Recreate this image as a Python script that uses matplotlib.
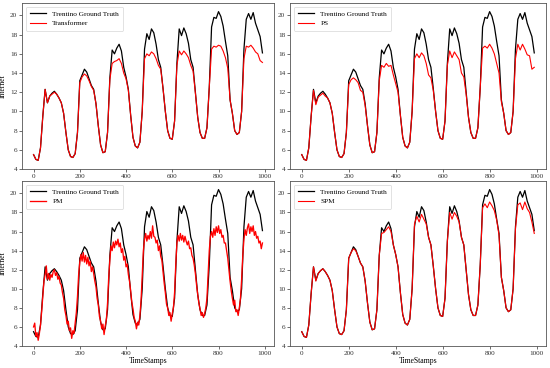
import matplotlib
matplotlib.use("Agg")
import matplotlib.pyplot as plt

plt.rcParams['font.family'] = ['Liberation Serif', 'DejaVu Serif']

# ---- data ----
timestamps = list(range(0, 1000, 10))
ground_truth = [5.5, 5.0, 4.9, 6.2, 9.5, 12.3, 10.9, 11.6, 11.9, 12.1,
                11.8, 11.4, 10.9, 9.8, 7.8, 6.0, 5.3, 5.2, 5.6, 7.8,
                13.2, 13.8, 14.4, 14.1, 13.4, 12.7, 12.3, 10.8, 8.5, 6.5,
                5.7, 5.8, 7.8, 13.5, 16.4, 16.0, 16.6, 17.0, 16.3, 14.6,
                13.6, 12.3, 9.6, 7.3, 6.4, 6.2, 6.8, 10.0, 16.5, 18.1,
                17.5, 18.6, 18.2, 17.0, 15.4, 14.6, 12.4, 10.0, 8.0, 7.2,
                7.1, 9.0, 15.0, 18.6, 17.9, 18.7, 18.1, 17.1, 15.4, 14.6,
                12.0, 9.4, 7.8, 7.2, 7.2, 8.3, 12.5, 18.8, 19.8, 19.7,
                20.4, 19.9, 18.9, 17.3, 15.8, 11.2, 9.8, 8.0, 7.6, 7.8,
                10.0, 16.5, 19.6, 20.2, 19.6, 20.3, 19.2, 18.5, 17.8, 16.1]

transformer = [5.5, 5.0, 4.9, 6.2, 9.5, 12.3, 10.9, 11.6, 11.8, 12.0,
               11.8, 11.4, 10.9, 9.8, 7.8, 6.0, 5.3, 5.2, 5.6, 7.8,
               13.0, 13.6, 13.9, 13.7, 13.2, 12.6, 12.2, 10.8, 8.5, 6.5,
               5.7, 5.8, 7.8, 13.3, 15.0, 15.2, 15.3, 15.5, 15.0, 14.0,
               13.4, 12.2, 9.6, 7.3, 6.4, 6.2, 6.8, 10.0, 15.5, 16.0,
               15.8, 16.2, 16.0, 15.5, 14.8, 14.4, 12.4, 10.0, 8.0, 7.2,
               7.1, 9.0, 14.8, 16.3, 15.9, 16.3, 16.0, 15.6, 14.8, 14.2,
               11.9, 9.4, 7.8, 7.2, 7.2, 8.3, 12.5, 16.5, 16.8, 16.7,
               16.9, 16.8, 16.3, 15.6, 14.5, 11.2, 9.8, 8.0, 7.6, 7.8,
               10.0, 15.5, 16.8, 16.7, 16.9, 16.6, 16.2, 16.0, 15.3, 15.1]

ps = [5.5, 5.0, 4.9, 6.2, 9.5, 12.2, 10.7, 11.5, 11.7, 11.9,
      11.6, 11.4, 10.9, 9.8, 7.8, 6.0, 5.3, 5.2, 5.6, 7.8,
      12.8, 13.3, 13.5, 13.3, 13.0, 12.2, 12.0, 10.6, 8.5, 6.5,
      5.7, 5.8, 7.8, 13.2, 14.8, 14.6, 15.0, 14.7, 14.8, 13.8,
      12.9, 12.0, 9.6, 7.3, 6.4, 6.2, 6.8, 10.0, 15.5, 16.0,
      15.6, 16.1, 15.8, 15.0, 13.8, 13.5, 12.2, 10.0, 8.0, 7.2,
      7.1, 9.0, 14.8, 16.3, 15.6, 16.2, 15.8, 15.4, 14.0, 13.6,
      11.8, 9.4, 7.8, 7.2, 7.2, 8.3, 12.5, 16.6, 16.8, 16.6,
      17.0, 16.6, 16.0, 15.0, 14.0, 11.0, 9.8, 8.0, 7.6, 7.8,
      10.0, 15.5, 17.0, 16.4, 17.0, 16.5, 15.9, 15.8, 14.4, 14.6]

spm = [5.5, 5.0, 4.9, 6.2, 9.5, 12.3, 10.8, 11.6, 11.9, 12.1,
       11.8, 11.4, 10.9, 9.8, 7.8, 6.0, 5.3, 5.2, 5.6, 7.8,
       13.2, 13.8, 14.2, 14.0, 13.4, 12.7, 12.3, 10.8, 8.5, 6.5,
       5.7, 5.8, 7.8, 13.5, 15.8, 15.9, 16.2, 16.5, 16.0, 14.6,
       13.6, 12.3, 9.6, 7.3, 6.4, 6.2, 6.8, 10.0, 16.8, 17.6,
       17.0, 17.8, 17.3, 16.8, 15.4, 14.6, 12.4, 10.0, 8.0, 7.2,
       7.1, 9.0, 15.0, 18.0, 17.3, 18.0, 17.6, 17.0, 15.4, 14.6,
       12.0, 9.4, 7.8, 7.2, 7.2, 8.3, 12.5, 18.5, 18.9, 18.5,
       19.1, 18.7, 18.2, 17.2, 15.6, 11.2, 9.8, 8.0, 7.6, 7.8,
       10.0, 16.3, 18.8, 19.0, 18.3, 19.1, 18.4, 18.0, 17.0, 15.8]

timestamps_pm = list(range(0, 995, 5))
pm = [6.0, 6.4, 5.0, 5.4, 4.6, 5.3, 6.2, 7.6, 9.2, 10.8,
      11.5, 12.4, 11.0, 11.6, 10.9, 11.5, 11.2, 11.8, 12.0, 11.4,
      11.7, 11.0, 11.3, 10.6, 10.4, 9.6, 9.0, 7.8, 7.2, 6.3,
      6.6, 5.6, 5.9, 4.8, 5.6, 5.3, 6.4, 7.5, 9.2, 11.5,
      12.8, 13.6, 12.9, 13.8, 12.8, 13.5, 12.6, 13.3, 12.4, 12.9,
      11.8, 12.3, 11.6, 10.8, 10.2, 9.0, 8.3, 7.1, 6.6, 5.8,
      6.3, 5.2, 6.1, 6.8, 8.5, 11.2, 13.0, 14.5, 14.0, 14.9,
      14.3, 15.0, 14.6, 15.2, 14.4, 14.8, 13.8, 14.2, 13.0, 13.4,
      12.3, 12.6, 11.5, 10.8, 9.8, 8.6, 7.9, 7.0, 6.6, 5.8,
      6.5, 6.2, 7.2, 8.8, 11.5, 14.0, 15.2, 15.8, 15.0, 15.6,
      15.2, 16.0, 15.3, 16.6, 15.5, 15.4, 14.8, 15.1, 14.0, 14.5,
      13.4, 13.0, 11.8, 10.6, 9.6, 8.4, 8.0, 7.2, 7.5, 6.6,
      7.4, 8.0, 9.6, 12.5, 14.8, 15.6, 15.0, 15.8, 15.1, 15.6,
      14.9, 15.5, 15.0, 14.6, 15.0, 14.2, 14.3, 13.5, 13.2, 12.5,
      11.6, 10.4, 9.4, 8.5, 7.9, 7.2, 7.5, 7.0, 7.4, 8.0,
      9.0, 11.5, 14.0, 15.5, 16.0, 15.4, 16.3, 15.6, 16.5, 15.9,
      16.6, 15.8, 16.2, 15.4, 15.6, 14.8, 14.8, 14.0, 13.2, 12.0,
      10.8, 9.8, 9.0, 8.3, 8.8, 7.6, 7.8, 7.2, 8.0, 9.0,
      11.0, 13.5, 15.2, 16.2, 15.6, 16.4, 16.8, 15.8, 16.5, 16.0,
      16.6, 15.6, 16.0, 15.3, 15.5, 14.8, 15.0, 14.2, 14.8]

gt_label = "Trentino Ground Truth"
model_names = ["Transformer", "PS", "PM", "SPM"]
xticks = [0, 200, 400, 600, 800, 1000]
yticks = [4, 6, 8, 10, 12, 14, 16, 18, 20]

fig = plt.figure(figsize=(5.5, 3.68), dpi=100)
W, H = 550.0, 368.0
positions = [
    (22 / W, 199 / H, 252 / W, 166 / H),
    (290 / W, 199 / H, 256 / W, 166 / H),
    (22 / W, 22 / H, 252 / W, 165 / H),
    (290 / W, 22 / H, 256 / W, 165 / H),
]
model_series = [(timestamps, transformer), (timestamps, ps),
                (timestamps_pm, pm), (timestamps, spm)]

for i, (pos, name, (mx, my)) in enumerate(zip(positions, model_names, model_series)):
    ax = fig.add_axes(pos)
    ax.plot(timestamps, ground_truth, color="black", lw=0.9, label=gt_label)
    ax.plot(mx, my, color="red", lw=0.95 if name == "PM" else 0.8, label=name)
    ax.set_xlim(-50, 1040)
    ax.set_ylim(4, 21.3)
    ax.set_xticks(xticks)
    ax.set_yticks(yticks)
    ax.tick_params(labelsize=5.2, length=2, width=0.5, pad=1.5, colors="#333333")
    for s in ax.spines.values():
        s.set_linewidth(0.6)
        s.set_color("#555555")
    if i % 2 == 0:
        ax.set_ylabel("Internet", fontsize=5.5, labelpad=2)
    if i >= 2:
        ax.set_xlabel("TimeStamps", fontsize=5.5, labelpad=1)
    leg = ax.legend(loc="upper left", fontsize=5.2, frameon=True, handlelength=2.2,
                    borderpad=0.6, labelspacing=0.45, handletextpad=0.9)
    leg.get_frame().set_linewidth(0.5)

fig.savefig("out.png", dpi=100)
